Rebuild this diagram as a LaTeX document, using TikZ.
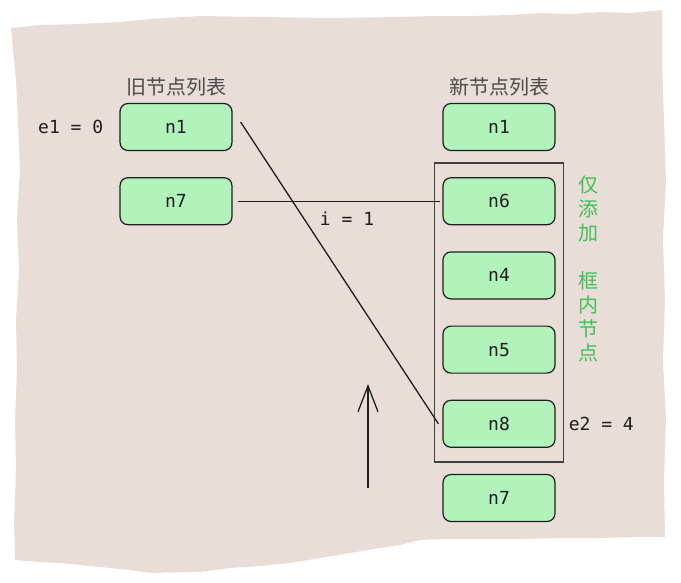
\documentclass[tikz,border=0pt]{standalone}
\usepackage{fontspec}
\setmonofont{DejaVu Sans Mono}
\newfontfamily\cjk{Noto Sans CJK SC}
\usepackage{xcolor}
\usepackage{tikz}
\usetikzlibrary{arrows.meta, positioning, fit}

\definecolor{paper}{HTML}{E9DDD8}
\definecolor{nodegreen}{HTML}{B2F2BB}
\definecolor{ink}{HTML}{1E1E1E}
\definecolor{notegreen}{HTML}{40C057}

\begin{document}
\begin{tikzpicture}[
x=1pt, y=-1pt,
node distance=26pt,
every node/.style={font=\fontsize{18}{20}\selectfont\ttfamily, text=ink},
vnode/.style={draw=ink, fill=nodegreen, line width=1.2pt, rounded corners=8pt, minimum width=112pt, minimum height=47pt},
title/.style={font=\fontsize{20}{24}\selectfont\cjk, text=ink!80, inner sep=0pt},
idx/.style={inner sep=0pt},
link/.style={draw=ink, line width=1.3pt}
]
\useasboundingbox (0,0) rectangle (681,582);

% paper background
\fill[paper] (11,28) -- (40,25) -- (80,24) -- (120,22) -- (150,19) -- (200,16) -- (260,17)
  -- (330,18) -- (400,17) -- (430,16) -- (470,16) -- (510,15) -- (540,13) -- (570,14)
  -- (600,12) -- (630,13) -- (650,11) -- (662,10)
  -- (662,60) -- (664,120) -- (666,180) -- (663,240) -- (665,300) -- (663,360)
  -- (666,420) -- (664,480) -- (665,537)
  -- (640,537) -- (600,538) -- (560,538) -- (520,539) -- (480,539) -- (440,539)
  -- (420,540) -- (400,545) -- (380,548) -- (350,553) -- (320,558) -- (290,563)
  -- (260,566) -- (230,568) -- (200,572) -- (150,573) -- (130,570) -- (90,566)
  -- (60,563) -- (40,562) -- (15,560)
  -- (14,520) -- (16,470) -- (15,420) -- (17,370) -- (16,320) -- (19,270)
  -- (17,220) -- (20,170) -- (18,120) -- (16,80) -- (13,50) -- cycle;

% old list
\node[vnode] (oldn1) at (176,127) {n1};
\node[vnode, below=of oldn1] (oldn7) {n7};
\node[title, above=7pt of oldn1] (oldtitle) {旧节点列表};
\node[idx, left=16pt of oldn1] (e1) {e1 = 0};

% new list
\node[vnode] (n1) at (499,127) {n1};
\node[vnode, below=of n1] (n6) {n6};
\node[vnode, below=of n6] (n4) {n4};
\node[vnode, below=of n4] (n5) {n5};
\node[vnode, below=of n5] (n8) {n8};
\node[vnode, below=of n8] (n7) {n7};
\node[title, above=7pt of n1] (newtitle) {新节点列表};

\node[draw=ink!85, line width=1.4pt, inner xsep=8pt, inner ysep=14pt, fit=(n6)(n8)] (frame) {};
\node[idx, right=13pt of n8] (e2) {e2 = 4};
\node[font=\fontsize{20}{24}\selectfont\cjk, text=notegreen, align=center, inner sep=0pt] (note) at (588,269)
{仅\\添\\加\\[24pt]框\\内\\节\\点};

% links
\draw[link] ([xshift=8pt,yshift=5pt]oldn1.east) -- ([xshift=-4pt]n8.west);
\draw[link] ([xshift=5pt]oldn7.east) -- ([xshift=-2pt]n6.west);
\node[idx] (i) at (347,219) {i = 1};

\coordinate (ptrtail) at (368,488);
\coordinate (ptrhead) at (368,384);
\draw[link, -{Straight Barb[length=26pt, width=20pt]}] (ptrtail) -- (ptrhead);

\end{tikzpicture}
\end{document}
